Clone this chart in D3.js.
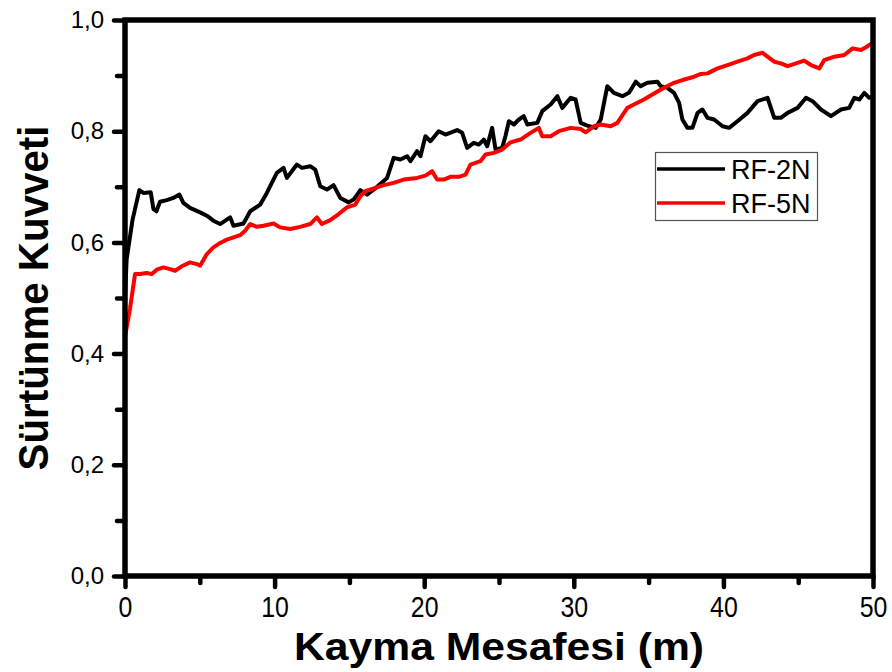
<!DOCTYPE html>
<html>
<head>
<meta charset="utf-8">
<script src="https://cdn.jsdelivr.net/npm/d3@7"></script>
<style>
  html, body { margin: 0; padding: 0; background: #fff; }
  svg { display: block; }
</style>
</head>
<body>
<svg id="chart" width="892" height="672"></svg>
<script>
// ---------- data ----------
const seriesNames = ["RF-2N", "RF-5N"];
const seriesColors = ["#000000", "#ff0000"];

// RF-2N : [sliding distance (m), friction value]
const rf2N = [
  [0, 0.50], [0.11, 0.57], [0.5, 0.64], [0.96, 0.694], [1.23, 0.689], [1.72, 0.69],
  [1.9, 0.66], [2.1, 0.656], [2.34, 0.673], [2.79, 0.676], [3.23, 0.68], [3.64, 0.686],
  [3.9, 0.671], [4.35, 0.662], [5.02, 0.654], [5.47, 0.648], [5.91, 0.639], [6.36, 0.633],
  [7.03, 0.645], [7.25, 0.630], [7.92, 0.634], [8.37, 0.656], [9.04, 0.668], [9.48, 0.689],
  [10.15, 0.725], [10.6, 0.734], [10.82, 0.716], [11.49, 0.740], [11.83, 0.734], [12.38, 0.737],
  [12.72, 0.731], [13.05, 0.701], [13.5, 0.695], [13.94, 0.703], [14.39, 0.680], [14.95, 0.672],
  [15.28, 0.677], [15.73, 0.694], [16.18, 0.686], [16.85, 0.700], [17.52, 0.716], [17.96, 0.752],
  [18.41, 0.749], [18.86, 0.755], [19.08, 0.746], [19.52, 0.764], [19.75, 0.755], [20.08, 0.791],
  [20.42, 0.782], [20.97, 0.800], [21.42, 0.794], [22.2, 0.802], [22.54, 0.797], [22.87, 0.770],
  [23.31, 0.779], [23.65, 0.776], [23.98, 0.785], [24.21, 0.773], [24.54, 0.806], [24.77, 0.767],
  [25.21, 0.770], [25.43, 0.791], [25.66, 0.818], [26.0, 0.812], [26.33, 0.821], [26.66, 0.827],
  [26.89, 0.812], [27.56, 0.815], [27.89, 0.836], [28.45, 0.848], [28.9, 0.863], [29.23, 0.842],
  [29.79, 0.860], [30.12, 0.857], [30.46, 0.815], [30.9, 0.810], [31.46, 0.806], [31.8, 0.821],
  [32.24, 0.881], [32.68, 0.869], [33.25, 0.863], [33.69, 0.869], [34.14, 0.889], [34.47, 0.881],
  [34.92, 0.887], [35.59, 0.889], [35.81, 0.881], [36.26, 0.878], [36.7, 0.869], [37.04, 0.851],
  [37.26, 0.821], [37.6, 0.806], [37.93, 0.806], [38.27, 0.833], [38.6, 0.839], [38.94, 0.824],
  [39.38, 0.821], [39.94, 0.809], [40.38, 0.806], [40.94, 0.818], [41.61, 0.833], [42.28, 0.854],
  [42.95, 0.860], [43.4, 0.824], [43.84, 0.824], [44.29, 0.833], [44.96, 0.842], [45.52, 0.860],
  [45.96, 0.854], [46.52, 0.839], [47.19, 0.827], [47.86, 0.839], [48.41, 0.842], [48.75, 0.860],
  [49.09, 0.857], [49.42, 0.869], [49.75, 0.860], [50, 0.862]
];

// RF-5N : [sliding distance (m), friction value]
const rf5N = [
  [0, 0.43], [0.07, 0.441], [0.33, 0.48], [0.67, 0.543], [1.0, 0.543], [1.45, 0.545],
  [1.79, 0.543], [2.12, 0.551], [2.57, 0.555], [3.01, 0.552], [3.35, 0.549], [3.79, 0.557],
  [4.35, 0.564], [4.8, 0.561], [5.02, 0.558], [5.47, 0.579], [5.91, 0.591], [6.36, 0.599],
  [6.81, 0.605], [7.25, 0.609], [7.7, 0.613], [8.03, 0.621], [8.37, 0.633], [8.81, 0.628],
  [9.26, 0.630], [9.93, 0.634], [10.37, 0.627], [11.04, 0.624], [11.71, 0.628], [12.38, 0.633],
  [12.83, 0.645], [13.16, 0.633], [13.72, 0.640], [14.28, 0.651], [14.84, 0.663], [15.39, 0.668],
  [15.73, 0.683], [16.06, 0.692], [16.73, 0.698], [17.29, 0.703], [17.96, 0.707], [18.63, 0.713],
  [19.52, 0.716], [20.08, 0.720], [20.53, 0.728], [20.86, 0.713], [21.31, 0.713], [21.75, 0.718],
  [22.31, 0.718], [22.76, 0.722], [23.09, 0.740], [23.76, 0.746], [24.1, 0.758], [24.65, 0.761],
  [25.21, 0.767], [25.77, 0.780], [26.44, 0.785], [27.11, 0.797], [27.66, 0.806], [27.89, 0.791],
  [28.45, 0.791], [29.0, 0.800], [29.79, 0.806], [30.46, 0.804], [30.79, 0.798], [31.35, 0.809],
  [31.79, 0.812], [32.46, 0.809], [32.91, 0.815], [33.58, 0.842], [34.02, 0.848], [34.69, 0.857],
  [35.25, 0.866], [36.03, 0.878], [36.7, 0.887], [37.26, 0.892], [37.93, 0.897], [38.49, 0.903],
  [38.94, 0.904], [39.61, 0.913], [40.27, 0.919], [40.94, 0.925], [41.61, 0.931], [42.05, 0.937],
  [42.62, 0.941], [42.95, 0.934], [43.4, 0.925], [43.84, 0.922], [44.29, 0.917], [44.85, 0.922],
  [45.4, 0.927], [45.85, 0.919], [46.41, 0.913], [46.74, 0.928], [47.41, 0.934], [48.08, 0.937],
  [48.64, 0.949], [49.2, 0.946], [49.53, 0.951], [49.87, 0.957], [50, 0.956]
];

const xMajorTicks = [0, 10, 20, 30, 40, 50];
const xMinorTicks = [5, 15, 25, 35, 45];
const yMajorTicks = [0, 0.2, 0.4, 0.6, 0.8, 1.0];
const yMinorTicks = [0.1, 0.3, 0.5, 0.7, 0.9];
const xTitle = "Kayma Mesafesi (m)";
const yTitle = "Sürtünme Kuvveti";

// ---------- layout ----------
const svg = d3.select("#chart");
const mLeft = 125, mRight = 873, mTop = 20, mBottom = 576;
const FONT = "'Liberation Sans', Arial, sans-serif";

const x = d3.scaleLinear().domain([0, 50]).range([mLeft, mRight]);
const y = d3.scaleLinear().domain([0, 1]).range([mBottom, mTop]);
const fmt = d => d3.format(".1f")(d).replace(".", ",");

// x axis minor + major
svg.append("g").attr("transform", `translate(0,${mBottom})`)
  .call(d3.axisBottom(x).tickValues(xMinorTicks).tickSize(7).tickFormat(""))
  .call(g => g.select(".domain").remove())
  .call(g => g.selectAll("line").attr("stroke-width", 4.5).attr("stroke-linecap", "round"));

const gx = svg.append("g").attr("transform", `translate(0,${mBottom})`)
  .call(d3.axisBottom(x).tickValues(xMajorTicks).tickSize(11).tickPadding(9).tickFormat(d3.format("d")));
gx.select(".domain").remove();
gx.selectAll("line").attr("stroke-width", 4.5).attr("stroke-linecap", "round");
gx.selectAll("text").attr("font-family", FONT).attr("font-size", 30).attr("fill", "#000")
  .attr("transform", "scale(0.83,1)");

// y axis minor + major
svg.append("g").attr("transform", `translate(${mLeft},0)`)
  .call(d3.axisLeft(y).tickValues(yMinorTicks).tickSize(8).tickFormat(""))
  .call(g => g.select(".domain").remove())
  .call(g => g.selectAll("line").attr("stroke-width", 4.5).attr("stroke-linecap", "round"));

const gy = svg.append("g").attr("transform", `translate(${mLeft},0)`)
  .call(d3.axisLeft(y).tickValues(yMajorTicks).tickSize(11).tickPadding(10).tickFormat(fmt));
gy.select(".domain").remove();
gy.selectAll("line").attr("stroke-width", 4.5).attr("stroke-linecap", "round");
gy.selectAll("text").attr("font-family", FONT).attr("font-size", 24).attr("fill", "#000");

// lines
const line = d3.line().x(d => x(d[0])).y(d => y(d[1]));
svg.append("path").datum(rf2N).attr("d", line).attr("fill", "none")
  .attr("stroke", seriesColors[0]).attr("stroke-width", 4).attr("stroke-linejoin", "round");
svg.append("path").datum(rf5N).attr("d", line).attr("fill", "none")
  .attr("stroke", seriesColors[1]).attr("stroke-width", 4).attr("stroke-linejoin", "round");

// frame
svg.append("rect").attr("x", mLeft).attr("y", mTop).attr("width", mRight - mLeft).attr("height", mBottom - mTop)
  .attr("fill", "none").attr("stroke", "#000").attr("stroke-width", 5.5);

// axis titles
svg.append("text").attr("x", (mLeft + mRight) / 2).attr("y", 660)
  .attr("text-anchor", "middle").attr("font-family", FONT).attr("font-weight", "bold")
  .attr("font-size", 39).attr("textLength", 410).attr("lengthAdjust", "spacingAndGlyphs")
  .text(xTitle);

svg.append("text").attr("transform", `translate(48,${(mTop + mBottom) / 2}) rotate(-90)`)
  .attr("text-anchor", "middle").attr("font-family", FONT).attr("font-weight", "bold")
  .attr("font-size", 42).attr("textLength", 345).attr("lengthAdjust", "spacingAndGlyphs")
  .text(yTitle);

// legend
const lg = svg.append("g");
lg.append("rect").attr("x", 655.5).attr("y", 152.5).attr("width", 162).attr("height", 68)
  .attr("fill", "#fff").attr("stroke", "#555").attr("stroke-width", 1.2);
seriesNames.forEach((name, i) => {
  const yy = 169 + i * 34;
  lg.append("line").attr("x1", 657).attr("x2", 725).attr("y1", yy).attr("y2", yy)
    .attr("stroke", seriesColors[i]).attr("stroke-width", 3.5);
  lg.append("text").attr("x", 731).attr("y", yy + 10).attr("font-family", FONT)
    .attr("font-size", 27).attr("fill", "#000").text(name);
});
</script>
</body>
</html>
